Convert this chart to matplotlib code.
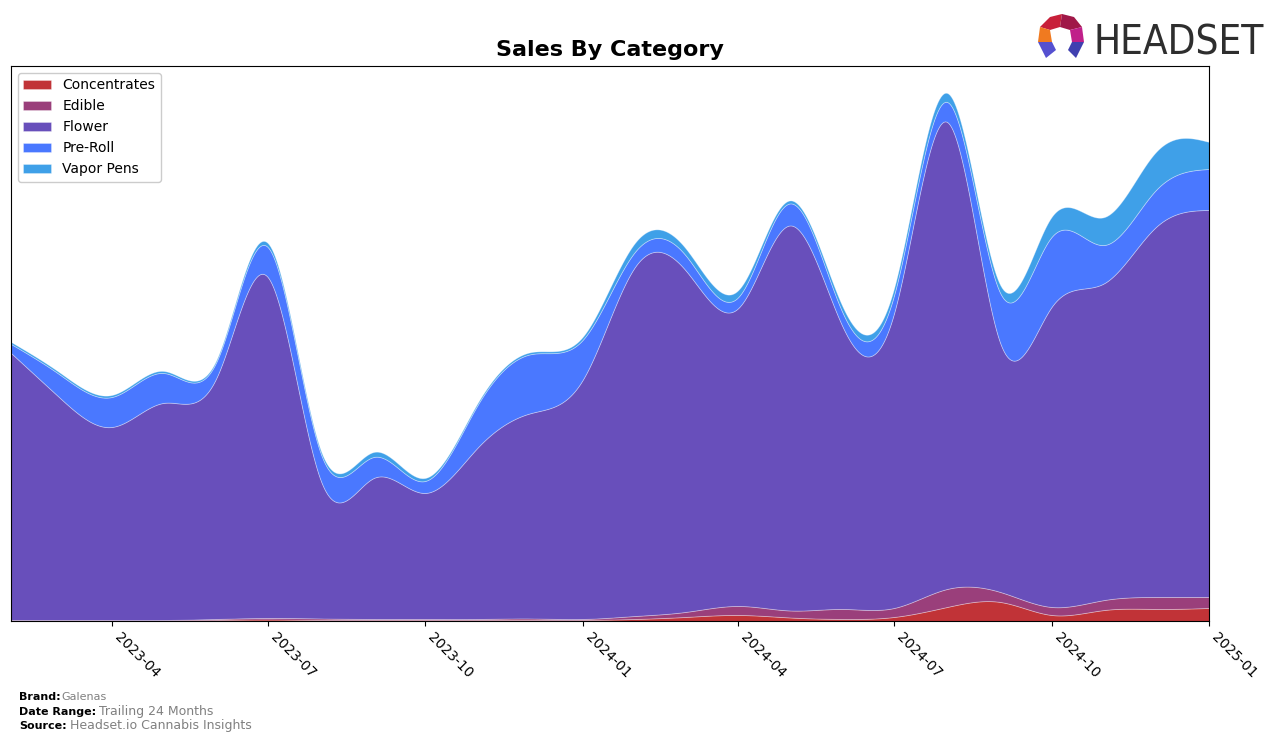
import numpy as np
import pandas as pd
import matplotlib
matplotlib.use("Agg")
import matplotlib.pyplot as plt
import matplotlib.dates as mdates
from matplotlib.patches import Polygon

# monthly sales (relative units)
months = pd.date_range("2023-02-01", "2025-01-01", freq="MS")
categories = ["Concentrates", "Edible", "Flower", "Pre-Roll", "Vapor Pens"]
concentrates = [0.5, 0.5, 0.5, 0.5, 1, 1.5, 1, 1, 1, 1, 1, 1,
                2, 4, 6, 3.5, 2, 4, 14, 19, 6, 11, 12, 13]
edible = [0.5, 0.5, 0.5, 0.5, 1, 1.5, 1.5, 1, 1, 1, 1.5, 1,
          3, 5, 9, 7, 10, 9, 18, 10, 8, 10, 12, 11]
flower = [267, 223, 193, 217, 241, 341, 138, 141, 126, 172, 205, 239,
          350, 342, 298, 385, 282, 295, 467, 249, 300, 317, 370, 387]
pre_roll = [9, 23, 30, 30, 16, 30, 27, 21, 12, 43, 59, 40,
            15, 15, 11, 22, 14, 18, 20, 50, 70, 38, 37, 41]
vapor_pens = [2, 2, 2, 2, 2, 4, 3, 5, 3, 2, 2, 3,
              9, 7, 7, 3, 6, 7, 9, 8, 20, 28, 38, 27]

colors = ["#C13337", "#9A3F7B", "#684FBB", "#4A78FF", "#3FA0E8"]


def natural_spline(x, y, xs):
    # natural cubic spline, only used to draw the smooth curves
    x = np.asarray(x, float)
    y = np.asarray(y, float)
    n = len(x)
    h = np.diff(x)
    A = np.zeros((n, n))
    b = np.zeros(n)
    A[0, 0] = 1
    A[-1, -1] = 1
    for i in range(1, n - 1):
        A[i, i - 1] = h[i - 1]
        A[i, i] = 2 * (h[i - 1] + h[i])
        A[i, i + 1] = h[i]
        b[i] = 3 * ((y[i + 1] - y[i]) / h[i] - (y[i] - y[i - 1]) / h[i - 1])
    c = np.linalg.solve(A, b)
    idx = np.clip(np.searchsorted(x, xs) - 1, 0, n - 2)
    dx = xs - x[idx]
    bb = (y[idx + 1] - y[idx]) / h[idx] - h[idx] * (2 * c[idx] + c[idx + 1]) / 3
    dd = (c[idx + 1] - c[idx]) / (3 * h[idx])
    return y[idx] + bb * dx + c[idx] * dx ** 2 + dd * dx ** 3


xnum = mdates.date2num(months)
xs = np.linspace(xnum[0], xnum[-1], 800)
series = [concentrates, edible, flower, pre_roll, vapor_pens]
smooth = [np.clip(natural_spline(xnum, s, xs), 0, None) for s in series]

fig = plt.figure(figsize=(12.76, 7.41), dpi=100)
ax = fig.add_axes([0.0086, 0.162, 0.9389, 0.749])

ax.stackplot(xs, smooth, labels=categories, colors=colors,
             edgecolor=(1, 1, 1, 0.35), linewidth=0.6)

ax.set_xlim(xnum[0], xnum[-1])
ax.set_ylim(0, 555)
ax.set_yticks([])
ax.xaxis.set_major_locator(mdates.MonthLocator(bymonth=[1, 4, 7, 10]))
ax.xaxis.set_major_formatter(mdates.DateFormatter("%Y-%m"))
plt.setp(ax.get_xticklabels(), rotation=-45, ha="left", fontsize=10)
ax.set_title("Sales By Category", fontsize=16, fontweight="bold", pad=7)
ax.legend(loc="upper left", fontsize=10, framealpha=1)

# footer
fig.text(0.015, 0.0551, "Brand:", fontsize=8, fontweight="bold")
fig.text(0.048, 0.0551, "Galenas", fontsize=8, color="gray")
fig.text(0.015, 0.0356, "Date Range:", fontsize=8, fontweight="bold")
fig.text(0.0775, 0.0356, "Trailing 24 Months", fontsize=9, color="gray")
fig.text(0.015, 0.0161, "Source:", fontsize=8, fontweight="bold")
fig.text(0.0545, 0.0161, "Headset.io Cannabis Insights", fontsize=9, color="gray")

# logo
fig.text(0.8566, 0.926, "HEADSET", fontsize=29, color="#2E2E2E",
         family="DejaVu Sans", fontstretch="condensed")
logo = [
    ([(1040, 27), (1050, 17), (1062, 14), (1060, 27), (1050, 30)], "#C8203A"),
    ([(1062, 14), (1074, 17), (1082, 27), (1070, 30), (1060, 27)], "#A01848"),
    ([(1082, 27), (1084, 42), (1072, 42), (1070, 30)], "#C0208A"),
    ([(1040, 27), (1050, 30), (1052, 42), (1038, 42)], "#F07A20"),
    ([(1038, 42), (1052, 42), (1056, 50), (1046, 58)], "#5550D0"),
    ([(1084, 42), (1072, 42), (1068, 50), (1076, 58)], "#4040B0"),
]
for pts, col in logo:
    fig.patches.append(Polygon([(px / 1276, 1 - py / 741) for px, py in pts],
                               closed=True, facecolor=col, edgecolor="none",
                               transform=fig.transFigure, figure=fig))

fig.savefig("out.png", dpi=100)
